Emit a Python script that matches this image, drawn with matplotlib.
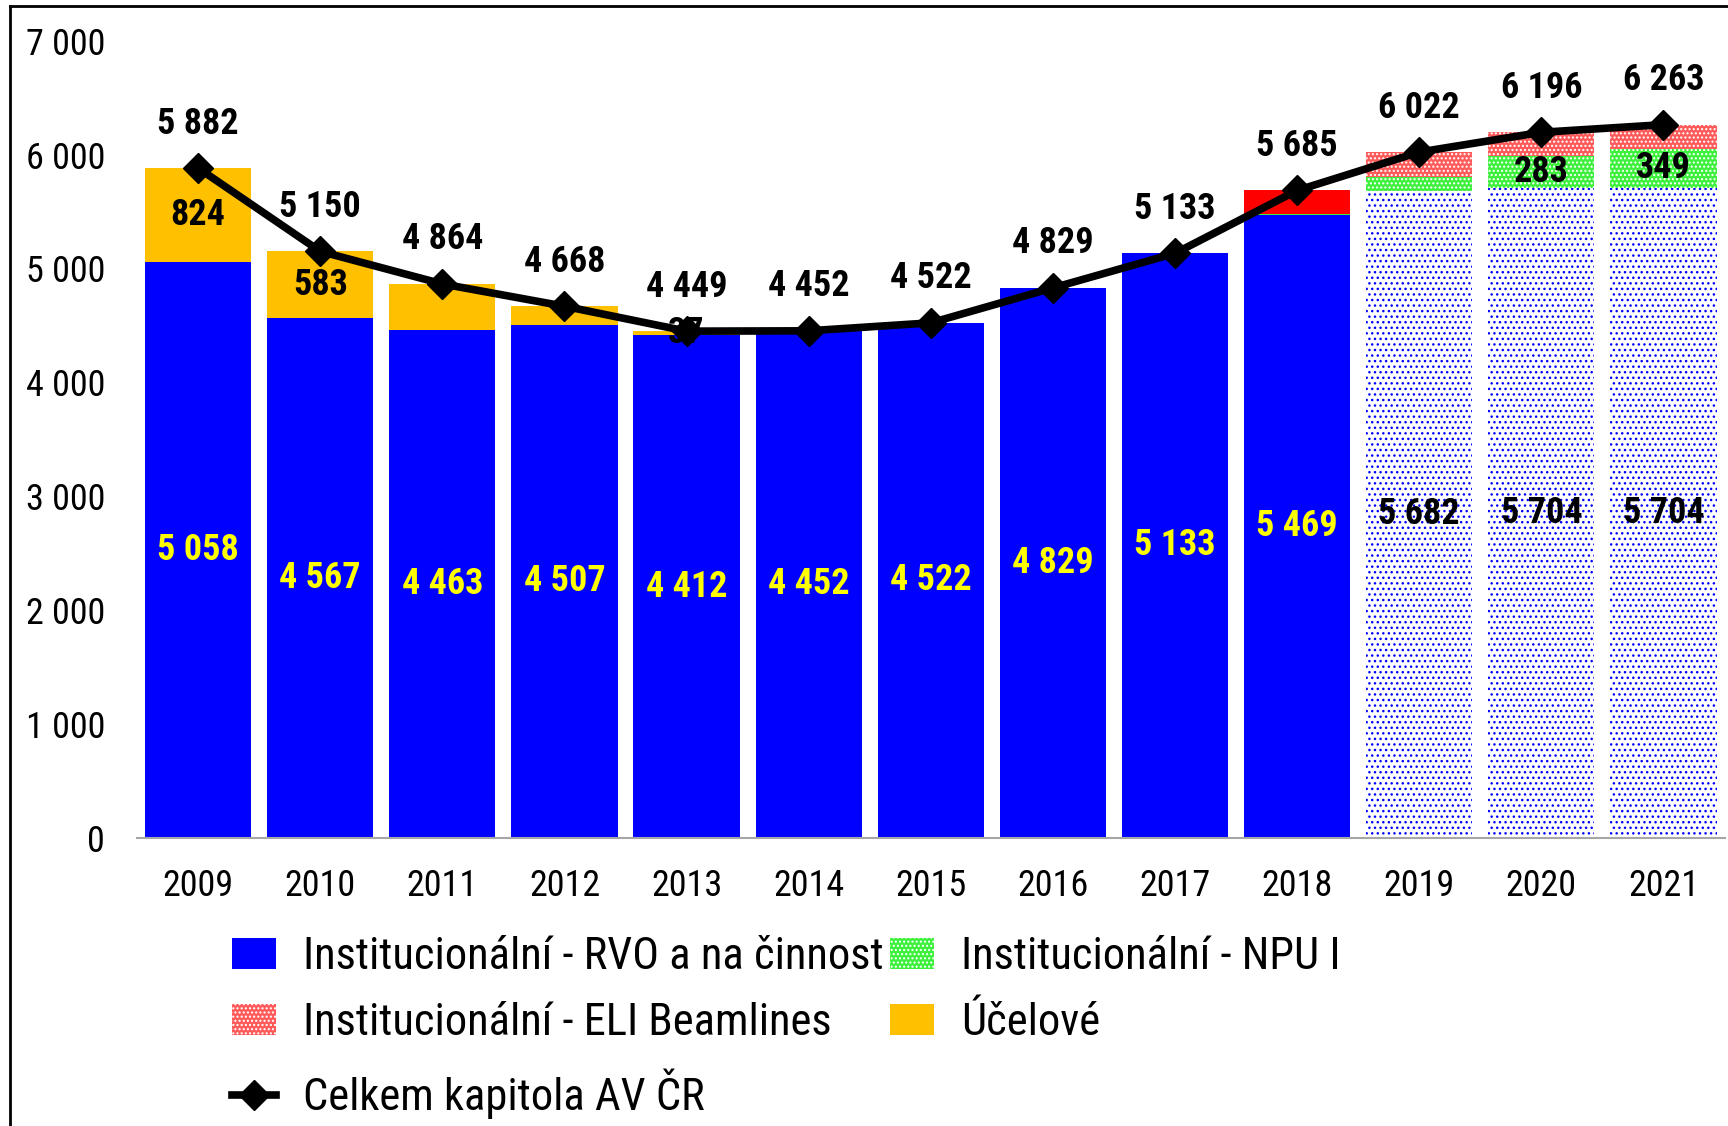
import matplotlib
matplotlib.use("Agg")
import matplotlib.pyplot as plt
from matplotlib import font_manager as fm
from matplotlib.patches import Patch
from matplotlib.lines import Line2D

years = ["2009", "2010", "2011", "2012", "2013", "2014", "2015", "2016", "2017", "2018", "2019", "2020", "2021"]
rvo = [5058, 4567, 4463, 4507, 4412, 4452, 4522, 4829, 5133, 5469, 5682, 5704, 5704]
ucelove = [824, 583, 401, 161, 37, 0, 0, 0, 0, 0, 0, 0, 0]
npu = [0, 0, 0, 0, 0, 0, 0, 0, 0, 8, 120, 283, 349]
eli = [0, 0, 0, 0, 0, 0, 0, 0, 0, 208, 220, 209, 210]
total = [5882, 5150, 4864, 4668, 4449, 4452, 4522, 4829, 5133, 5685, 6022, 6196, 6263]
ucelove_labels = ["824", "583", "", "", "37", "", "", "", "", "", "", "", ""]
npu_labels = ["", "", "", "", "", "", "", "", "", "", "", "283", "349"]
projected = [False] * 10 + [True] * 3

names = {f.name for f in fm.fontManager.ttflist}
FONT = "Liberation Sans"
for cand in ["Liberation Sans Narrow", "Arial Narrow", "Roboto Condensed", "PT Sans Narrow"]:
    if cand in names:
        FONT = cand
        break
plt.rcParams["font.family"] = [FONT, "DejaVu Sans"]
plt.rcParams["hatch.linewidth"] = 1.0

BLUE = "#0000FF"
ORANGE = "#FFC000"
RED = "#FF0000"
PINK = "#FF5A5A"
GREEN = "#3CF03C"


def fmt(v):
    return f"{v:,}".replace(",", " ")


fig = plt.figure(figsize=(17.28, 11.26), dpi=100)
ax = fig.add_axes([0.0793, 0.2561, 0.9187, 0.7077])

x = list(range(len(years)))
w = 0.87

bars_rvo = ax.bar(x, rvo, width=w, color=BLUE, linewidth=0)
bars_npu = ax.bar(x, npu, width=w, bottom=rvo, color=GREEN, linewidth=0)
bottom_eli = [a + b for a, b in zip(rvo, npu)]
bars_eli = ax.bar(x, eli, width=w, bottom=bottom_eli, color=RED, linewidth=0)
bars_uc = ax.bar(x, ucelove, width=w, bottom=rvo, color=ORANGE, linewidth=0)

for i, p in enumerate(bars_rvo):
    if projected[i]:
        p.set_facecolor("white")
        p.set_edgecolor(BLUE)
        p.set_hatch("...")
for i, p in enumerate(bars_npu):
    p.set_facecolor(GREEN)
    p.set_edgecolor("white")
    p.set_hatch("....")
for i, p in enumerate(bars_eli):
    if projected[i]:
        p.set_facecolor(PINK)
        p.set_edgecolor("white")
        p.set_hatch("....")

# line
ax.plot(x, total, color="black", linewidth=5.5, marker="D", markersize=15, zorder=5)

lab_kw = dict(fontsize=26, fontweight="bold", ha="center", va="center")
for i in x:
    ax.annotate(fmt(total[i]), (i, total[i]), xytext=(0, 32), textcoords="offset points",
                color="black", zorder=6, **lab_kw)
    ax.text(i, rvo[i] / 2, fmt(rvo[i]), color=("black" if projected[i] else "#FFFF00"), zorder=6, **lab_kw)
    if ucelove_labels[i]:
        ax.text(i, rvo[i] + ucelove[i] / 2, ucelove_labels[i], color="black", zorder=4, **lab_kw)
    if npu_labels[i]:
        ax.text(i, rvo[i] + npu[i] / 2, npu_labels[i], color="black", zorder=6, **lab_kw)

ax.set_xlim(-0.5, len(years) - 0.5)
ax.set_ylim(0, 7000)
ax.set_yticks(range(0, 7001, 1000))
ax.set_yticklabels([fmt(v) for v in range(0, 7001, 1000)])
ax.set_xticks(x)
ax.set_xticklabels(years)
ax.tick_params(axis="both", length=0, labelsize=26)
ax.tick_params(axis="y", pad=23)
ax.tick_params(axis="x", pad=22)
for s in ["left", "right", "top"]:
    ax.spines[s].set_visible(False)
ax.spines["bottom"].set_color("#A6A6A6")
ax.spines["bottom"].set_linewidth(1.5)

handles = [
    Patch(facecolor=BLUE, linewidth=0),
    Patch(facecolor=PINK, edgecolor="white", hatch="....", linewidth=0),
    Line2D([0], [0], color="black", linewidth=5.5, marker="D", markersize=15),
    Patch(facecolor=GREEN, edgecolor="white", hatch="....", linewidth=0),
    Patch(facecolor=ORANGE, linewidth=0),
]
labels = [
    "Institucionální - RVO a na činnost",
    "Institucionální - ELI Beamlines",
    "Celkem kapitola AV ČR",
    "Institucionální - NPU I",
    "Účelové",
]
fig.legend(handles, labels, ncol=2, loc="upper left", bbox_to_anchor=(0.134, 0.169),
           frameon=False, fontsize=32, handlelength=1.0, handleheight=0.7,
           handletextpad=0.6, columnspacing=0.15, labelspacing=0.55, borderpad=0,
           borderaxespad=0)

# figure border
fig.add_artist(Line2D([10 / 1728, 10 / 1728], [0, 1 - 6 / 1126], transform=fig.transFigure,
                      color="black", linewidth=2))
fig.add_artist(Line2D([10 / 1728, 1], [1 - 6 / 1126, 1 - 6 / 1126], transform=fig.transFigure,
                      color="black", linewidth=2))

fig.savefig("out.png", dpi=100)
